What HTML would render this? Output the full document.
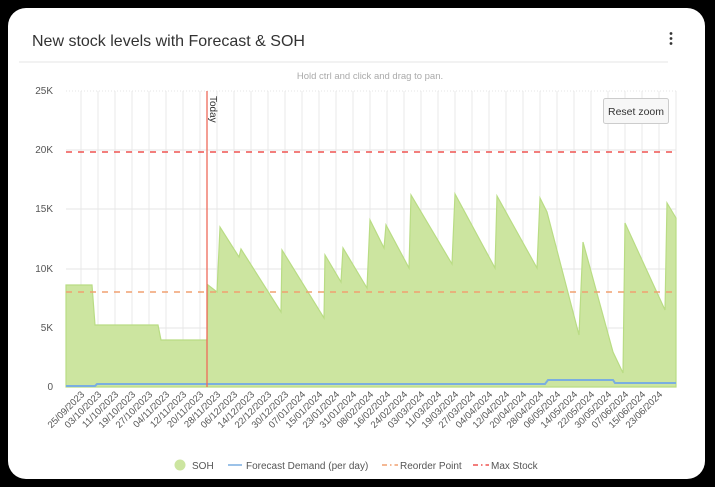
<!DOCTYPE html>
<html><head><meta charset="utf-8"><style>
html,body{margin:0;padding:0;background:#000;width:715px;height:487px;overflow:hidden}
.card{position:absolute;left:8px;top:8px;width:697px;height:471px;background:#fff;border-radius:18px}
svg{position:absolute;left:0;top:0}
text{font-family:"Liberation Sans",sans-serif}
</style></head><body>
<div class="card"></div>
<svg width="715" height="487" viewBox="0 0 715 487">
<text x="32" y="46" font-size="16" fill="#333">New stock levels with Forecast &amp; SOH</text>
<circle cx="671" cy="33.5" r="1.4" fill="#333"/><circle cx="671" cy="38.5" r="1.4" fill="#333"/><circle cx="671" cy="43.5" r="1.4" fill="#333"/>
<line x1="19" y1="62" x2="668" y2="62" stroke="#e4e4e4"/>
<text x="370" y="79" font-size="9.5" fill="#aaa" text-anchor="middle">Hold ctrl and click and drag to pan.</text>
<g stroke="#e8e8e8" stroke-width="1" id="vg"></g>
<g stroke="#e6e6e6">
<line x1="66" y1="91" x2="676" y2="91" stroke-dasharray="1,2"/>
<line x1="66" y1="150" x2="676" y2="150"/>
<line x1="66" y1="209" x2="676" y2="209"/>
<line x1="66" y1="269" x2="676" y2="269"/>
<line x1="66" y1="328" x2="676" y2="328"/>
</g>
<g font-size="10" fill="#555" text-anchor="end">
<text x="53" y="94">25K</text><text x="53" y="153">20K</text><text x="53" y="212">15K</text><text x="53" y="272">10K</text><text x="53" y="331">5K</text><text x="53" y="390">0</text>
</g>
<polygon fill="#cce5a0" stroke="#b9dc84" stroke-width="1.2" points="66,387 66,285 92,285 95,325 158,325 161,340 207,340 208,285 217,292 220,227 239,257 241,249 281,312 282,250 324,318 325,255 341,282 343,248 367,288 370,220 384,248 386,225 409,268 411,195 452,264 455,194 495,268 497,196 537,268 540,198 547,212 579,335 583,242 613,352 623,373 625,223 665,310 667,203 676,218 676,387"/>
<polyline fill="none" stroke="#7aaee0" stroke-width="2" points="66,386 95,386 97,384 545,384 548,380 613,380 615,383 676,383"/>
<line x1="66" y1="152" x2="676" y2="152" stroke="#ef5350" stroke-width="1.5" stroke-dasharray="6,6"/>
<line x1="66" y1="292" x2="676" y2="292" stroke="#f0a070" stroke-width="1.5" stroke-dasharray="6,6"/>
<line x1="207" y1="91" x2="207" y2="387" stroke="#ef6a5a" stroke-width="1.3"/>
<text transform="translate(210,96) rotate(90)" font-size="10" fill="#333">Today</text>
<rect x="603.5" y="98.5" width="65" height="25" fill="#f7f7f7" stroke="#ccc" rx="2"/>
<text x="636" y="115" font-size="10.5" fill="#333" text-anchor="middle">Reset zoom</text>
<g font-size="9.5" fill="#555" text-anchor="end" id="xl"></g>
<circle cx="180" cy="465" r="5.5" fill="#cce5a0"/>
<text x="192" y="469" font-size="10" fill="#555">SOH</text>
<line x1="228" y1="465" x2="242" y2="465" stroke="#7aaee0" stroke-width="1.5"/>
<text x="246" y="469" font-size="10" fill="#555">Forecast Demand (per day)</text>
<line x1="382" y1="465" x2="398" y2="465" stroke="#f0a070" stroke-width="1.5" stroke-dasharray="5,3,1.5,3"/>
<text x="400" y="469" font-size="10" fill="#555">Reorder Point</text>
<line x1="473" y1="465" x2="489" y2="465" stroke="#ef5350" stroke-width="1.5" stroke-dasharray="5,3,1.5,3"/>
<text x="491" y="469" font-size="10" fill="#555">Max Stock</text>
</svg>
<script>
var labels=["25/09/2023","03/10/2023","11/10/2023","19/10/2023","27/10/2023","04/11/2023","12/11/2023","20/11/2023","28/11/2023","06/12/2023","14/12/2023","22/12/2023","30/12/2023","07/01/2024","15/01/2024","23/01/2024","31/01/2024","08/02/2024","16/02/2024","24/02/2024","03/03/2024","11/03/2024","19/03/2024","27/03/2024","04/04/2024","12/04/2024","20/04/2024","28/04/2024","06/05/2024","14/05/2024","22/05/2024","30/05/2024","07/06/2024","15/06/2024","23/06/2024"];
var ns="http://www.w3.org/2000/svg",vg=document.getElementById("vg"),xl=document.getElementById("xl");
for(var i=0;i<36;i++){var x=81+17*i;var l=document.createElementNS(ns,"line");l.setAttribute("x1",x);l.setAttribute("x2",x);l.setAttribute("y1",91);l.setAttribute("y2",387);vg.appendChild(l);}
labels.forEach(function(s,i){var x=81+17*i+4;var t=document.createElementNS(ns,"text");t.setAttribute("transform","translate("+x+",395) rotate(-45)");t.textContent=s;xl.appendChild(t);});
</script>
</body></html>
